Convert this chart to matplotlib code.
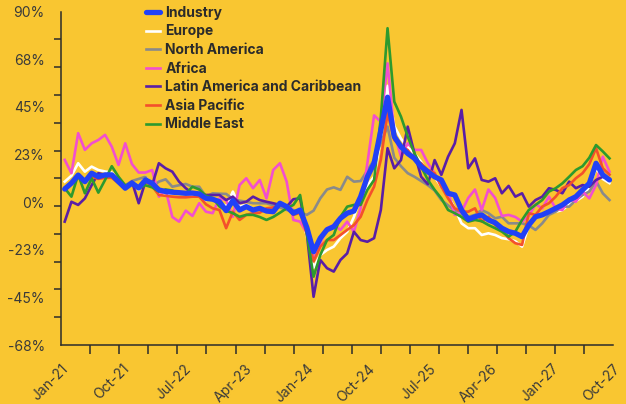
#!/usr/bin/env python3

import numpy as np
import matplotlib
matplotlib.use('Agg')
import matplotlib.pyplot as plt

plt.rcParams['font.family'] = ['Inter', 'DejaVu Sans']

# monthly series, Jan-21 .. Oct-27 (82 months), values in %
industry = [6.2, 9, 12.8, 9.7, 13.7, 12, 12.9, 12.9, 9.7, 6.6,
            9, 6.7, 10.5, 8.9, 5.8, 5, 4.7, 4.5, 4.2, 4.3,
            3.9, 1.8, 1.4, 0.2, -4, 0.7, -3.7, -2.1, -3.7, -2.9,
            -4.2, -4.5, -0.5, -2.1, -5.2, -3.7, -12, -23.4, -17, -13,
            -11.6, -7.6, -5.2, -4.2, 2.6, 12, 18.4, 34, 49.6, 31,
            26.2, 23, 20.7, 16.8, 14.4, 12, 10.5, 4.2, 3.4, -3.7,
            -8.1, -6.9, -6, -8.4, -9.7, -12.3, -13.9, -14.7, -16.3, -10.8,
            -6.9, -6, -4.5, -2.9, -1.3, 1, 2.6, 5.8, 8.9, 18.4,
            12.9, 10.5]
europe = [9.7, 12.5, 18.4, 14.4, 16.8, 15.2, 14.5, 14, 10.5, 6.6,
          9.7, 5.8, 12, 7.3, 4.2, 3.5, 4, 4, 4, 3.5,
          3.5, 1, 2, 0, -2, 5, -2, -1.3, -3, -3,
          -4, -4, 0, -1.5, -5, -4, -16, -31, -25, -22.6,
          -21, -17, -14, -7, 2.6, 8, 12, 30, 55, 36,
          30, 26, 23, 19, 14, 12, 7.3, 3, -3, -10,
          -12.3, -12.3, -15.5, -14.7, -15.5, -17, -17.5, -18.5, -21, -11,
          -7.5, -6, -5.2, -4.5, -3.7, -1, 0.5, 2.6, 7.3, 16,
          11, 9]
north_america = [7, 9, 12, 10, 12, 12, 11.5, 12, 9, 8,
                 10, 11, 12, 7.3, 9.7, 10.8, 7.3, 8, 8.6, 7.3,
                 7.3, 2.6, 4.2, 4, 3.9, 1.5, 0.7, 0.2, -0.5, -0.5,
                 -0.5, -1.5, -2.5, -3.7, -3.7, -5, -6, -4, 1.8, 6,
                 7, 5.8, 12, 9.7, 10, 15, 20, 28, 35.7, 21,
                 17, 13.7, 12, 10, 8, 5.5, 1, -1.5, -4, -5.5,
                 -6.9, -6, -3.7, -5.2, -7.6, -6.9, -10, -10, -10, -11,
                 -13.1, -10, -6, -4.5, -2.1, -2.1, 1, 3.4, 5, 10,
                 4.2, 1]
africa = [20, 13.7, 32.6, 24.7, 27.8, 29.4, 31.8, 26.2, 17.6, 27.8,
          18, 14, 14, 15.2, 2.6, 6, -7, -9.2, -4, -6.5,
          -0.5, -4.5, -5.2, 1.8, 1, -6.9, 8.1, 11.3, 6.6, 10.5,
          1.8, 15.2, 18.4, 9.7, -8.4, -9.2, -14.6, -27.3, -19.4, -12.3,
          -10.8, -13.1, -9.2, -14, -2.9, 18.4, 41, 38, 65.6, 32.6,
          21.5, 27.8, 24.7, 24.7, 18.4, 13.7, 7.3, 5, -6, -4.5,
          2, 6, -3.7, 6, 2, -6.5, -6, -7, -9.2, -6.5,
          -1, -2.9, 2.6, -3, -3.7, 1.8, 0.2, 5, 1.8, 8.1,
          21.5, 14.4]
latin_america = [-9.2, 0.2, -1.3, 1.8, 8, 13.7, 12.9, 12, 11.3, 7.3,
                 9.7, -0.5, 9.7, 8.1, 18.4, 16, 14.4, 9.7, 6.6, 4.2,
                 4.2, 3.4, 3.4, 3.4, 1, 2.6, -0.5, 0.2, 2.6, 1,
                 0.2, -0.5, -1.3, -2.1, 1.4, 1.8, -14.7, -44.7, -27.3, -31.2,
                 -32.8, -27.3, -24.2, -14, -17.9, -18.7, -17, -3.7, 25.5, 16,
                 19.9, 35.7, 23.1, 12, 8.5, 19.9, 12.9, 21.5, 27.8, 43.6,
                 16, 20.7, 10.5, 9.7, 11.3, 4.2, 7.7, 2.6, 4.2, -2.1,
                 1, 2.6, 6.6, 5.8, 4.2, 9.7, 6.6, 8.1, 7.3, 10.5,
                 12, 11]
asia_pacific = [6, 9, 11.5, 10.5, 12, 11, 11.5, 11.5, 9, 6.5,
                9, 7, 10, 7.5, 3.4, 3, 2.6, 2.3, 2.3, 2.6,
                2.6, -1, -2.9, -3.7, -12.3, -4.5, -8.4, -6, -5.2, -5,
                -2.9, -2.5, -1.3, -2.1, -6, -5, -15, -28, -21, -17.9,
                -17.9, -15.5, -13.1, -10.8, -6.9, 1, 7.3, 20, 42, 29.4,
                26.2, 24.7, 20, 18.4, 15.2, 13.7, 7.3, 1.8, -2.9, -4.5,
                -4.5, -2.9, -9.2, -6.9, -10.8, -13.1, -17, -19.4, -20.2, -5.2,
                -6, -2.1, -0.5, 2.6, 6.6, 8.1, 11.3, 13.7, 18, 25.5,
                16, 13]
middle_east = [6.6, 2.6, 13, 4.2, 11.3, 4.5, 10.5, 17, 12, 8,
               8.5, 6.5, 8, 7, 5, 6, 5.5, 4, 4, 7.3,
               6, 3, 2, -2, -4, -5.2, -6.9, -6, -6, -7,
               -8.4, -7, -5, -2.9, -1.3, 3.4, -15, -35.2, -25, -17.9,
               -15.5, -6.9, -2.1, -1.3, -1.3, 5.8, 10.5, 40, 82.2, 47.5,
               40.4, 31, 23.1, 16.8, 10.5, 5.8, 1.8, -3.7, -5.2, -7,
               -9.2, -8.4, -9, -10.8, -12.3, -13.9, -16.3, -13.9, -8.4, -3.7,
               -1.3, 1, 5, 6.6, 8.9, 12, 15.2, 17, 21, 27,
               24, 20.7]

series_names = ['Industry', 'Europe', 'North America', 'Africa',
                'Latin America and Caribbean', 'Asia Pacific', 'Middle East']
series_values = [industry, europe, north_america, africa,
                 latin_america, asia_pacific, middle_east]
series_colors = ['#2141F7', '#FFFFFF', '#8A8A8A', '#F24FCF',
                 '#5A1EA6', '#F4502B', '#2D9A2E']

x_labels = ['Jan-21', 'Oct-21', 'Jul-22', 'Apr-23', 'Jan-24',
            'Oct-24', 'Jul-25', 'Apr-26', 'Jan-27', 'Oct-27']
y_ticks = [90, 67.5, 45, 22.5, 0, -22.5, -45, -67.5]
y_labels = ['90%', '68%', '45%', '23%', '0%', '-23%', '-45%', '-68%']

bg = '#F9C631'
ink = '#2B2B2B'

fig = plt.figure(figsize=(6.26, 4.04), dpi=100)
fig.patch.set_facecolor(bg)
ax = fig.add_axes([0.098, 0.146, 0.881, 0.825])
ax.set_facecolor(bg)

x = np.arange(len(industry))
# draw regions first, industry on top
for i in range(len(series_names) - 1, 0, -1):
    ax.plot(x, series_values[i], color=series_colors[i], linewidth=1.9,
            label=series_names[i], zorder=2 + i * 0.1)
ax.plot(x, industry, color=series_colors[0], linewidth=3.8,
        solid_capstyle='round', solid_joinstyle='round',
        label=series_names[0], zorder=5)

n = len(industry)
ax.set_xlim(-0.5, n - 0.5)
ax.set_ylim(-67.5, 90)

ax.set_xticks(np.linspace(-0.5, n - 0.5, len(x_labels)))
ax.set_xticklabels(x_labels, rotation=45, ha='right', rotation_mode='anchor')
ax.set_xticks(np.linspace(-0.5, n - 0.5, 20), minor=True)
ax.set_yticks(y_ticks)
ax.set_yticklabels(y_labels)
ax.set_yticks(np.linspace(-67.5, 90, 13), minor=True)

ax.tick_params(axis='both', which='major', length=0, labelsize=10,
               labelcolor='#3A3A3A')
ax.tick_params(axis='y', which='major', pad=12)
ax.tick_params(axis='x', which='major', pad=12)
ax.tick_params(axis='y', which='minor', length=5, width=1.1, color=ink)
ax.tick_params(axis='x', which='minor', length=6.5, width=1.1, color=ink)

for side in ['top', 'right']:
    ax.spines[side].set_visible(False)
for side in ['left', 'bottom']:
    ax.spines[side].set_color(ink)
    ax.spines[side].set_linewidth(1.1)

handles, labels = ax.get_legend_handles_labels()
order = [labels.index(name) for name in series_names]
leg = fig.legend([handles[i] for i in order], [labels[i] for i in order],
                 loc='upper left', bbox_to_anchor=(0.22, 1.006),
                 frameon=False, fontsize=10, handlelength=1.0,
                 handletextpad=0.4, labelspacing=0.33, borderaxespad=0.2)
for t in leg.get_texts():
    t.set_fontweight('bold')
    t.set_color(ink)

fig.savefig('out.png', dpi=100, facecolor=bg)
